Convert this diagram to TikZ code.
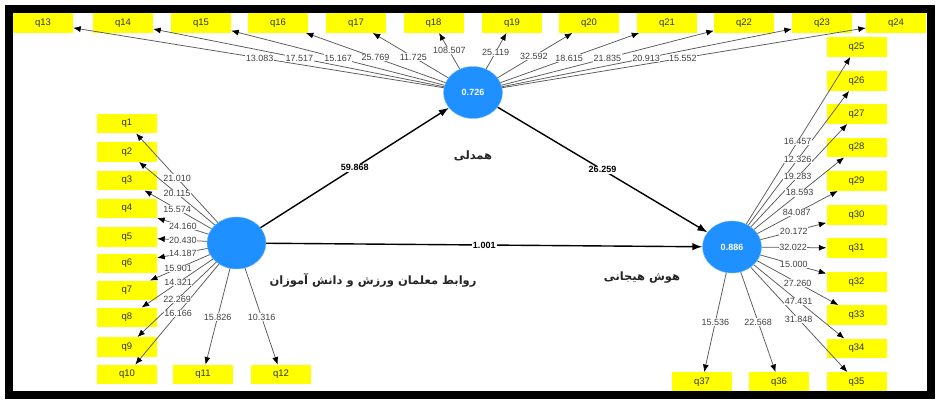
\documentclass[tikz,border=0pt]{standalone}
\usepackage{fontspec}
\setmainfont{Liberation Sans}
\newfontfamily\fa[Script=Arabic]{DejaVu Sans}
\TeXXeTstate=1
\usetikzlibrary{shapes.geometric,arrows.meta,calc}
\definecolor{lvblue}{HTML}{1E90FF}
\definecolor{qyellow}{HTML}{FFFF00}
\tikzset{
  qbox/.style={fill=qyellow, minimum width=60pt, minimum height=19.5pt, inner sep=0pt,
    font=\fontsize{9.5}{11}\selectfont, text=black!80},
  lv/.style={ellipse, fill=lvblue, draw=lvblue!60, line width=0.4pt, minimum width=59pt, minimum height=52pt,
    inner sep=0pt, text=white, font=\bfseries\fontsize{9}{10}\selectfont},
  ldarrow/.style={draw=black!65, line width=0.75pt, -{Latex[length=7.5pt,width=6pt,color=black]}},
  ldlbl/.style={fill=white, inner sep=0.5pt, text=black!75, font=\fontsize{9}{10}\selectfont},
  patharrow/.style={draw=black, line width=1.4pt, -{Latex[length=10pt,width=7.5pt]}},
  pathlbl/.style={fill=white, inner sep=1pt, text=black, font=\bfseries\fontsize{9}{10}\selectfont},
  lvname/.style={font=\fa\bfseries\fontsize{11.5}{14}\selectfont, text=black!85}
}
\begin{document}
\begin{tikzpicture}[x=1pt,y=-1pt]
\useasboundingbox (0,0) rectangle (937,399);
\fill[white] (0,0) rectangle (937,399);
% latent variables
\node[lv] (L) at (236.5,243) {};
\node[lv] (T) at (473,92.5) {0.726};
\node[lv] (R) at (732,247) {0.886};
% top indicators
\foreach \n/\x in {q13/43,q14/123,q15/201,q16/278,q17/356,q18/433.5,q19/512,q20/589,q21/667,q22/744,q23/822,q24/896}
  \node[qbox] (\n) at (\x,23) {\n};
% left indicators
\foreach \n/\y in {q1/123.5,q2/152,q3/180.5,q4/208.5,q5/237,q6/263.5,q7/290.5,q8/317.5,q9/347,q10/374.5}
  \node[qbox] (\n) at (127,\y) {\n};
\node[qbox] (q11) at (203,374.5) {q11};
\node[qbox] (q12) at (281,374.5) {q12};
% right indicators
\foreach \n/\y in {q25/47,q26/81,q27/114,q28/147.5,q29/181,q30/215,q31/248,q32/282,q33/315,q34/348.5,q35/382}
  \node[qbox] (\n) at (856.5,\y) {\n};
\node[qbox] (q37) at (702,382) {q37};
\node[qbox] (q36) at (779,382) {q36};
% loading arrows
\foreach \q in {q13,q14,q15,q16,q17,q18,q19,q20,q21,q22,q23,q24}
  \draw[ldarrow] (T) -- (\q);
\foreach \q in {q1,q2,q3,q4,q5,q6,q7,q8,q9,q10,q11,q12}
  \draw[ldarrow] (L) -- (\q);
\foreach \q in {q25,q26,q27,q28,q29,q30,q31,q32,q33,q34,q35,q36,q37}
  \draw[ldarrow] (R) -- (\q);
% loading labels
\foreach \q/\v/\t in {q13/13.083/0.496,q14/17.517/0.496,q15/15.167/0.496,q16/25.769/0.5,q17/11.725/0.51,q18/108.507/0.6,q19/25.119/0.58,q20/32.592/0.525,q21/18.615/0.496,q22/21.835/0.496,q23/20.913/0.496,q24/15.552/0.496}
  \node[ldlbl] at ($(T)!\t!(\q)$) {\v};
\foreach \q/\v/\t in {q1/21.010/0.543,q2/20.115/0.543,q3/15.574/0.543,q4/24.160/0.49,q5/20.430/0.49,q6/14.187/0.49,q7/15.901/0.534,q8/14.321/0.534,q9/22.269/0.543,q10/16.166/0.534,q11/15.826/0.563,q12/10.316/0.563}
  \node[ldlbl] at ($(L)!\t!(\q)$) {\v};
\foreach \q/\v/\t in {q25/16.457/0.528,q26/12.326/0.528,q27/19.283/0.528,q28/18.593/0.544,q29/84.087/0.52,q30/20.172/0.496,q31/32.022/0.49,q32/15.000/0.496,q33/27.260/0.528,q34/47.431/0.536,q35/31.848/0.536,q37/15.536/0.556,q36/22.568/0.556}
  \node[ldlbl] at ($(R)!\t!(\q)$) {\v};
% structural paths
\draw[patharrow] (L) -- node[pathlbl, pos=0.5] {59.868} (T);
\draw[patharrow] (T) -- node[pathlbl, pos=0.5] {26.259} (R);
\draw[patharrow] (L) -- node[pathlbl, pos=0.5] {1.001} (R);
% construct names
\node[lvname] (nT) at (473,156) {\beginR همدلی\endR};
\node[lvname] (nL) at (373,280) {\beginR روابط معلمان ورزش و دانش آموزان\endR};
\node[lvname] (nR) at (642,278) {\beginR هوش هیجانی\endR};
% frame
\draw[black, line width=8pt] (9,9) rectangle (931,395);
\end{tikzpicture}
\end{document}
